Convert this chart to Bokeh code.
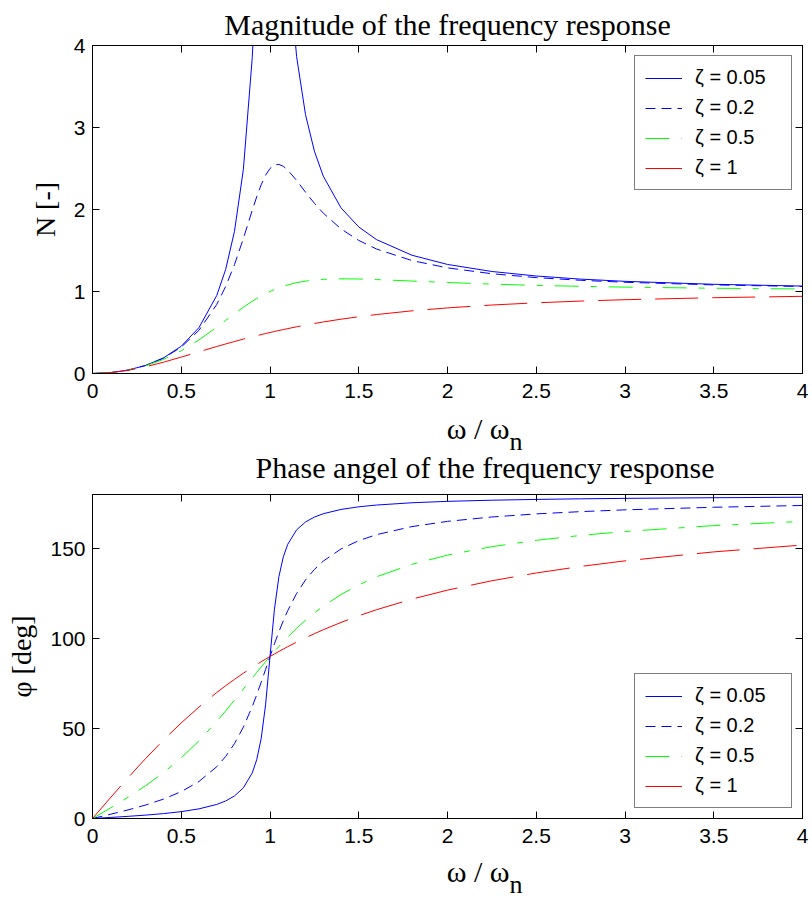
from bokeh.plotting import figure
from bokeh.models import Legend, LegendItem, LinearAxis, FixedTicker, Label, Range1d
from bokeh.layouts import column
from bokeh.embed import file_html
from bokeh.resources import INLINE

# frequency ratio omega / omega_n
ratio = [0, 0.1, 0.2, 0.3, 0.4, 0.5, 0.6, 0.7, 0.75, 0.8, 0.85, 0.9, 0.925, 0.95, 0.975,
         1.0, 1.025, 1.05, 1.075, 1.1, 1.15, 1.2, 1.25, 1.3, 1.4, 1.5, 1.6, 1.8, 2.0,
         2.25, 2.5, 2.75, 3.0, 3.5, 4.0]

# magnitude N [-]
mag_z005 = [0, 0.0101, 0.0417, 0.0988, 0.1903, 0.3326, 0.5600, 0.9519, 1.2672, 1.7355, 2.4894,
            3.8528, 4.990, 6.630, 8.698, 10.0, 9.190, 7.513, 6.110, 5.104, 3.863, 3.157, 2.712,
            2.407, 2.020, 1.787, 1.633, 1.442, 1.330, 1.244, 1.189, 1.151, 1.124, 1.088, 1.066]
mag_z02 = [0, 0.0101, 0.0415, 0.0980, 0.1871, 0.3221, 0.5267, 0.8422, 1.0604, 1.3287, 1.6463,
           1.9899, 2.1543, 2.3005, 2.4182, 2.5, 2.5432, 2.5502, 2.5271, 2.4818, 2.3541, 2.2115,
           2.0761, 1.9560, 1.7635, 1.6227, 1.5182, 1.3770, 1.2883, 1.2166, 1.1695, 1.1365,
           1.1126, 1.0806, 1.0607]
mag_z05 = [0, 0.0100, 0.0408, 0.0939, 0.1720, 0.2774, 0.4104, 0.5658, 0.6478, 0.7295, 0.8080,
           0.8806, 0.9139, 0.9450, 0.9738, 1.0, 1.0238, 1.0450, 1.0639, 1.0805, 1.1073, 1.1267,
           1.1399, 1.1483, 1.1546, 1.1523, 1.1456, 1.1275, 1.1094, 1.0901, 1.0748, 1.0628,
           1.0534, 1.0397, 1.0307]
mag_z1 = [0, 0.0099, 0.0385, 0.0826, 0.1379, 0.2, 0.2647, 0.3289, 0.36, 0.3902, 0.4195, 0.4475,
          0.4611, 0.4744, 0.4873, 0.5, 0.5123, 0.5244, 0.5361, 0.5475, 0.5694, 0.5902, 0.6098,
          0.6283, 0.6622, 0.6923, 0.7191, 0.7642, 0.8, 0.8351, 0.8621, 0.8832, 0.9, 0.9245, 0.9412]

# phase angle [deg]
ph_z005 = [0, 0.58, 1.19, 1.89, 2.73, 3.81, 5.36, 7.82, 9.73, 12.53, 17.03, 25.35, 32.64, 44.27,
           63.14, 90, 116.29, 134.30, 145.36, 152.35, 160.37, 164.74, 167.47, 169.33, 171.70,
           173.16, 174.14, 175.41, 176.19, 176.83, 177.27, 177.60, 177.85, 178.22, 178.47]
ph_z02 = [0, 2.31, 4.76, 7.51, 10.78, 14.93, 20.56, 28.77, 34.44, 41.63, 50.78, 62.18, 68.70,
          75.61, 82.78, 90, 97.04, 103.71, 109.90, 115.51, 125.03, 132.51, 138.37, 143.00, 149.74,
          154.36, 157.69, 162.18, 165.07, 167.51, 169.22, 170.48, 171.47, 172.91, 173.91]
ph_z05 = [0, 5.77, 11.77, 18.25, 25.46, 33.69, 43.15, 53.92, 59.74, 65.77, 71.92, 78.08, 81.13,
          84.14, 87.10, 90, 92.83, 95.58, 98.24, 100.81, 105.67, 110.14, 114.23, 117.96, 124.44,
          129.81, 134.28, 141.22, 146.31, 151.02, 154.54, 157.26, 159.44, 162.72, 165.07]
ph_z1 = [0, 11.42, 22.62, 33.40, 43.60, 53.13, 61.93, 70.01, 73.74, 77.32, 80.73, 83.97, 85.54,
         87.06, 88.55, 90, 91.41, 92.79, 94.14, 95.45, 97.98, 100.39, 102.68, 104.86, 108.92,
         112.62, 115.99, 121.89, 126.87, 132.07, 136.40, 140.03, 143.13, 148.11, 151.93]

series_labels = ["ζ = 0.05", "ζ = 0.2", "ζ = 0.5", "ζ = 1"]
x_ticks = [0, 0.5, 1, 1.5, 2, 2.5, 3, 3.5, 4]
x_tick_labels = ["0", "0.5", "1", "1.5", "2", "2.5", "3", "3.5", "4"]
mag_ticks = [0, 1, 2, 3, 4]
mag_tick_labels = ["0", "1", "2", "3", "4"]
ph_ticks = [0, 50, 100, 150]
ph_tick_labels = ["0", "50", "100", "150"]

title_mag = "Magnitude of the frequency response"
title_ph = "Phase angel of the frequency response"
xlabel_main = "ω / ω"
xlabel_sub = "n"

styles = [dict(color="#0000ff", dash="solid"),
          dict(color="#0000ff", dash="10 6"),
          dict(color="#00ff00", dash="24 12 6 12"),
          dict(color="#ff0000", dash="43 14")]

SERIF = "Liberation Serif"
SANS = "Liberation Sans"
W = 812


def style_axis(ax, ticks, labels, show_labels=True):
    ax.ticker = FixedTicker(ticks=ticks)
    ax.axis_line_color = "black"
    ax.axis_line_width = 1
    ax.major_tick_line_color = "black"
    ax.major_tick_in = 7
    ax.major_tick_out = 0
    ax.minor_tick_line_color = None
    ax.major_label_text_font = SANS
    ax.major_label_text_color = "black"
    ax.major_label_text_font_size = "21px"
    if show_labels:
        ax.major_label_overrides = {t: l for t, l in zip(ticks, labels)}
        ax.major_label_standoff = 7
    else:
        ax.major_label_overrides = {t: "" for t in ticks}
        ax.major_label_text_color = None
        ax.major_label_standoff = 0


def make_fig(height, top, bottom, ymax, yticks, ylabels, ylabel, ys, legend_loc, title=None):
    p = figure(width=W, height=height, x_range=Range1d(0, 4), y_range=Range1d(0, ymax),
               output_backend="svg", toolbar_location=None,
               min_border_left=92, min_border_right=10, min_border_top=top,
               min_border_bottom=bottom)
    if title is not None:
        p.title.text = title
        p.title.text_font = SERIF
        p.title.text_font_size = "30px"
        p.title.text_font_style = "normal"
        p.title.text_color = "black"
        p.title.align = "center"
        p.title.offset = 2
        p.title.standoff = 10
    p.xgrid.visible = False
    p.ygrid.visible = False
    p.outline_line_color = "black"
    p.background_fill_color = "white"
    p.border_fill_color = "white"
    style_axis(p.xaxis[0], x_ticks, x_tick_labels)
    p.xaxis[0].major_label_standoff = 10
    style_axis(p.yaxis[0], yticks, ylabels)
    p.yaxis[0].axis_label = ylabel
    p.yaxis[0].axis_label_text_font = SERIF
    p.yaxis[0].axis_label_text_font_size = "28px"
    p.yaxis[0].axis_label_text_font_style = "normal"
    p.yaxis[0].axis_label_text_color = "black"
    p.yaxis[0].axis_label_standoff = 10
    top_ax = LinearAxis()
    style_axis(top_ax, x_ticks, x_tick_labels, show_labels=False)
    p.add_layout(top_ax, "above")
    right_ax = LinearAxis()
    style_axis(right_ax, yticks, ylabels, show_labels=False)
    p.add_layout(right_ax, "right")

    items = []
    for yv, st, lab in zip(ys, styles, series_labels):
        r = p.line(ratio, yv, line_color=st["color"], line_width=1, line_dash=st["dash"])
        items.append(LegendItem(label=lab, renderers=[r]))
    leg = Legend(items=items, location=legend_loc, margin=10, padding=10, spacing=7,
                 label_height=20, glyph_height=20, glyph_width=37, label_standoff=13,
                 label_width=86, label_text_font=SANS, label_text_font_size="20px",
                 label_text_color="black",
                 border_line_color="black", border_line_width=1,
                 background_fill_color="white", background_fill_alpha=1)
    p.add_layout(leg)
    return p


def band(height, texts):
    b = figure(width=W, height=height, x_range=Range1d(0, W), y_range=Range1d(0, height),
               output_backend="svg", toolbar_location=None, x_axis_type=None,
               y_axis_type=None, min_border=0)
    b.outline_line_color = None
    b.background_fill_color = "white"
    b.border_fill_color = "white"
    for (x, y, txt, align, size) in texts:
        b.add_layout(Label(x=x, y=y, text=txt, text_align=align, text_baseline="alphabetic",
                           text_font=SERIF, text_font_size=size, text_color="black"))
    return b


p1 = make_fig(405, 45, 32, 4, mag_ticks, mag_tick_labels, "N [-]",
              [mag_z005, mag_z02, mag_z05, mag_z1], "top_right", title=title_mag)
band1 = band(79, [(477, 56, xlabel_main, "right", "30px"),
                  (477, 43, xlabel_sub, "left", "26px"),
                  (449, 17, title_ph, "center", "30px")])
p2 = make_fig(366, 10, 32, 180, ph_ticks, ph_tick_labels, "φ [deg]",
              [ph_z005, ph_z02, ph_z05, ph_z1], "bottom_right")
band2 = band(48, [(477, 27, xlabel_main, "right", "30px"),
                  (477, 14, xlabel_sub, "left", "26px")])

layout = column(p1, band1, p2, band2, spacing=0)
open("out.html", "w").write(file_html(layout, INLINE))
